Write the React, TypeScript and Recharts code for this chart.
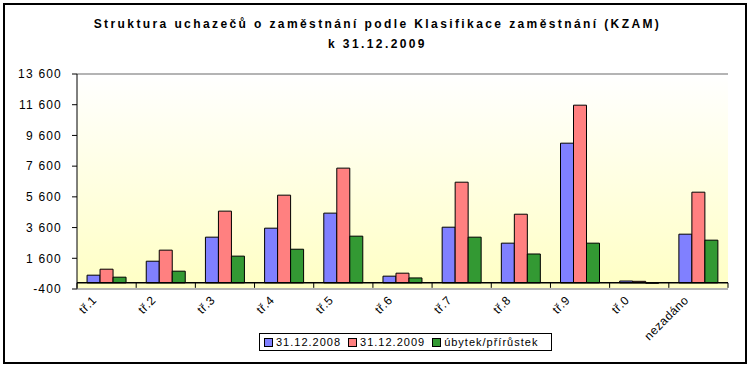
import {
  Bar,
  BarChart,
  CartesianGrid,
  ReferenceLine,
  XAxis,
  YAxis,
} from "recharts";

const categories = [
  "tř.1", "tř.2", "tř.3", "tř.4", "tř.5", "tř.6",
  "tř.7", "tř.8", "tř.9", "tř.0", "nezadáno",
];
const values2008 = [500, 1410, 2975, 3560, 4540, 436, 3625, 2585, 9095, 120, 3170];
const values2009 = [890, 2130, 4670, 5710, 7470, 630, 6555, 4470, 11570, 100, 5905];
const change = [370, 760, 1740, 2190, 3040, 320, 2975, 1880, 2585, -20, 2780];
const yTicks = [-400, 1600, 3600, 5600, 7600, 9600, 11600, 13600];
const seriesNames = ["31.12.2008", "31.12.2009", "úbytek/přírůstek"];
const seriesColors = ["#8080FF", "#FF8080", "#339933"];

const data = categories.map((c, i) => ({
  name: c,
  a: values2008[i],
  b: values2009[i],
  c: change[i],
}));

const W = 751;
const H = 367;
const PLOT_TOP = 74;
const PLOT_BOTTOM = 289;
const Y_MIN = -400;
const Y_MAX = 13600;
const FONT = "'Liberation Sans', Arial, sans-serif";

const fmt = (v: number) =>
  String(v).replace(/\B(?=(\d{3})+(?!\d))/g, " ");

// y pixel of the zero line, for the category tick marks
const zeroY =
  PLOT_TOP + ((PLOT_BOTTOM - PLOT_TOP) * (Y_MAX - 0)) / (Y_MAX - Y_MIN);

function XTick(props: any) {
  const { x, y, payload, index, visibleTicksCount } = props;
  const off = payload?.offset ?? 29.6;
  const last = index === (visibleTicksCount ?? categories.length) - 1;
  return (
    <g>
      <line x1={x - off} y1={zeroY} x2={x - off} y2={zeroY + 5} stroke="#000" />
      {last && (
        <line x1={x + off} y1={zeroY} x2={x + off} y2={zeroY + 5} stroke="#000" />
      )}
      <g transform={`translate(${x - 12},${y + 1})`}>
        <text
          textAnchor="end"
          transform="rotate(-45)"
          fontSize={12}
          letterSpacing={0.5}
          fontFamily={FONT}
          fill="#000"
          dy={4}
        >
          {payload.value}
        </text>
      </g>
    </g>
  );
}

export default function App() {
  return (
    <div
      style={{
        position: "absolute",
        left: 0,
        top: 0,
        width: W,
        height: H,
        background: "#fff",
        fontFamily: FONT,
      }}
    >
      <div
        style={{
          position: "absolute",
          left: 3,
          top: 3,
          width: 740,
          height: 357,
          border: "2px solid #000",
        }}
      />
      <div
        style={{
          position: "absolute",
          left: 0,
          width: W,
          top: 14,
          textAlign: "center",
          fontSize: 12,
          fontWeight: "bold",
          letterSpacing: 2.4,
          lineHeight: "20px",
          paddingLeft: 2,
        }}
      >
        Struktura uchazečů o zaměstnání podle Klasifikace zaměstnání (KZAM)
        <br />k 31.12.2009
      </div>
      <div style={{ position: "absolute", left: 0, top: 0 }}>
        <BarChart
          width={W}
          height={H}
          data={data}
          margin={{ top: PLOT_TOP, right: 23, bottom: 28, left: 17 }}
          barCategoryGap="17%"
          barGap={0}
        >
          <defs>
            <linearGradient id="bg" x1="0" y1="0" x2="0" y2="1">
              <stop offset="0%" stopColor="#FFFFFF" />
              <stop offset="100%" stopColor="#FFFFC4" />
            </linearGradient>
          </defs>
          <CartesianGrid
            vertical={false}
            stroke="#B4B4B4"
            strokeWidth={2}
            fill="url(#bg)"
            fillOpacity={1}
          />
          <XAxis
            dataKey="name"
            height={50}
            axisLine={false}
            tickLine={false}
            interval={0}
            tick={<XTick />}
          />
          <YAxis
            yAxisId="left"
            width={60}
            domain={[Y_MIN, Y_MAX]}
            ticks={yTicks}
            tickFormatter={fmt}
            interval={0}
            axisLine={{ stroke: "#000" }}
            tickLine={{ stroke: "#000" }}
            tickSize={5}
            tickMargin={10}
            tick={{ fontSize: 12, fill: "#000", fontFamily: FONT, letterSpacing: 1.2 }}
          />
          <YAxis
            yAxisId="right"
            orientation="right"
            width={0}
            domain={[Y_MIN, Y_MAX]}
            tick={false}
            tickLine={false}
            axisLine={{ stroke: "#B4B4B4", strokeWidth: 2 }}
          />
          <Bar yAxisId="left" dataKey="a" name={seriesNames[0]} fill={seriesColors[0]} stroke="#000" strokeWidth={1} isAnimationActive={false} />
          <Bar yAxisId="left" dataKey="b" name={seriesNames[1]} fill={seriesColors[1]} stroke="#000" strokeWidth={1} isAnimationActive={false} />
          <Bar yAxisId="left" dataKey="c" name={seriesNames[2]} fill={seriesColors[2]} stroke="#000" strokeWidth={1} isAnimationActive={false} />
          <ReferenceLine yAxisId="left" y={0} stroke="#000" strokeWidth={1.5} />
        </BarChart>
      </div>
      <div
        style={{
          position: "absolute",
          left: 259,
          top: 333,
          width: 291,
          height: 16,
          border: "1px solid #000",
          background: "#fff",
          display: "flex",
          alignItems: "center",
          fontSize: 11,
          letterSpacing: 1,
        }}
      >
        {seriesNames.map((n, i) => (
          <div key={n} style={{ display: "flex", alignItems: "center", marginLeft: i === 0 ? 4 : 7 }}>
            <span
              style={{
                display: "inline-block",
                width: 7,
                height: 7,
                border: "1px solid #000",
                background: seriesColors[i],
                marginRight: 3,
              }}
            />
            {n}
          </div>
        ))}
      </div>
    </div>
  );
}
